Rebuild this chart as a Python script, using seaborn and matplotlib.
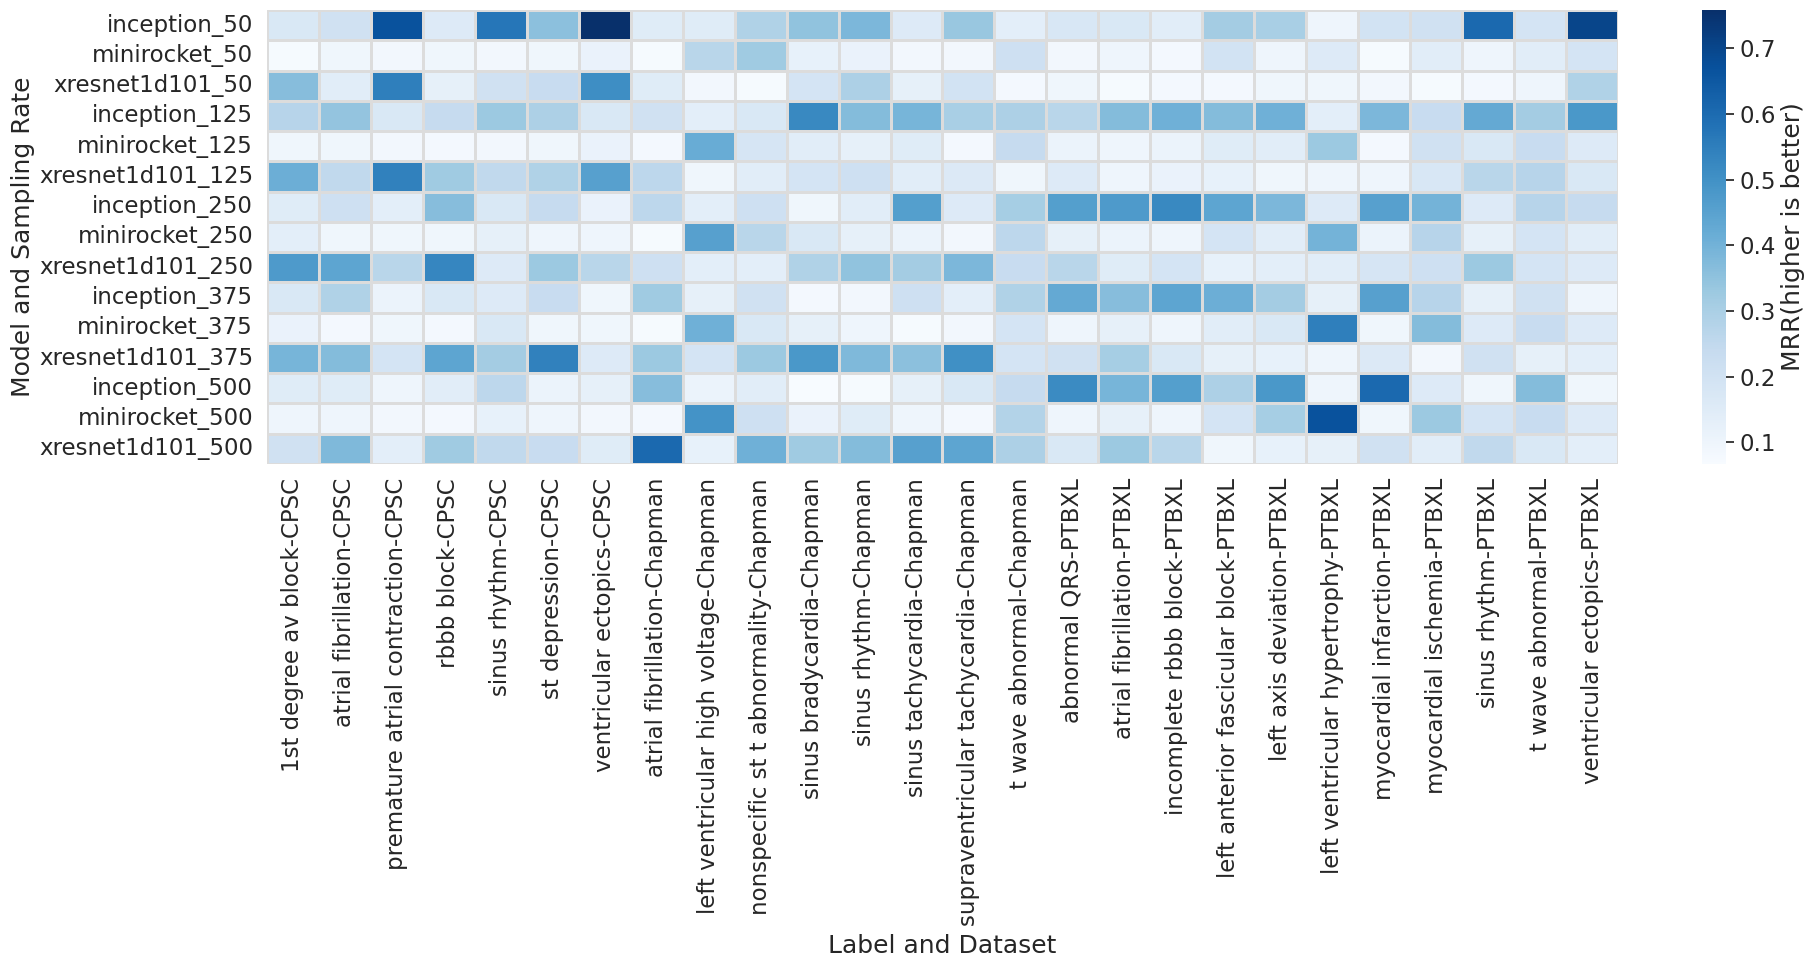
import numpy as np
import pandas as pd
import seaborn as sns
import matplotlib
matplotlib.use("Agg")
import matplotlib.pyplot as plt

models = ["inception_50", "minirocket_50", "xresnet1d101_50",
          "inception_125", "minirocket_125", "xresnet1d101_125",
          "inception_250", "minirocket_250", "xresnet1d101_250",
          "inception_375", "minirocket_375", "xresnet1d101_375",
          "inception_500", "minirocket_500", "xresnet1d101_500"]

labels = ["1st degree av block-CPSC", "atrial fibrillation-CPSC",
          "premature atrial contraction-CPSC", "rbbb block-CPSC",
          "sinus rhythm-CPSC", "st depression-CPSC", "ventricular ectopics-CPSC",
          "atrial fibrillation-Chapman", "left ventricular high voltage-Chapman",
          "nonspecific st t abnormality-Chapman", "sinus bradycardia-Chapman",
          "sinus rhythm-Chapman", "sinus tachycardia-Chapman",
          "supraventricular tachycardia-Chapman", "t wave abnormal-Chapman",
          "abnormal QRS-PTBXL", "atrial fibrillation-PTBXL",
          "incomplete rbbb block-PTBXL", "left anterior fascicular block-PTBXL",
          "left axis deviation-PTBXL", "left ventricular hypertrophy-PTBXL",
          "myocardial infarction-PTBXL", "myocardial ischemia-PTBXL",
          "sinus rhythm-PTBXL", "t wave abnormal-PTBXL", "ventricular ectopics-PTBXL"]

inception_50 = [0.171, 0.205, 0.667, 0.157, 0.571, 0.357, 0.758, 0.150, 0.150, 0.288, 0.350, 0.384, 0.157, 0.336, 0.136, 0.177, 0.171, 0.143, 0.315, 0.302, 0.102, 0.198, 0.205, 0.605, 0.191, 0.702]
minirocket_50 = [0.074, 0.095, 0.088, 0.095, 0.088, 0.095, 0.115, 0.074, 0.267, 0.322, 0.122, 0.115, 0.088, 0.088, 0.212, 0.088, 0.102, 0.081, 0.198, 0.102, 0.157, 0.074, 0.143, 0.102, 0.143, 0.191]
xresnet1d101_50 = [0.364, 0.143, 0.550, 0.129, 0.205, 0.233, 0.509, 0.150, 0.088, 0.074, 0.191, 0.295, 0.129, 0.198, 0.081, 0.095, 0.074, 0.081, 0.081, 0.095, 0.095, 0.088, 0.074, 0.081, 0.102, 0.288]
inception_125 = [0.274, 0.343, 0.171, 0.240, 0.329, 0.295, 0.171, 0.205, 0.136, 0.171, 0.522, 0.371, 0.391, 0.302, 0.295, 0.267, 0.371, 0.405, 0.371, 0.405, 0.136, 0.384, 0.233, 0.426, 0.315, 0.481]
minirocket_125 = [0.095, 0.095, 0.088, 0.081, 0.088, 0.095, 0.115, 0.081, 0.419, 0.184, 0.143, 0.129, 0.150, 0.081, 0.240, 0.108, 0.102, 0.108, 0.150, 0.143, 0.329, 0.081, 0.205, 0.171, 0.233, 0.157]
xresnet1d101_125 = [0.412, 0.253, 0.543, 0.322, 0.253, 0.288, 0.453, 0.260, 0.095, 0.143, 0.191, 0.212, 0.143, 0.164, 0.095, 0.157, 0.102, 0.115, 0.122, 0.095, 0.102, 0.102, 0.177, 0.267, 0.274, 0.171]
inception_250 = [0.150, 0.212, 0.136, 0.364, 0.171, 0.240, 0.115, 0.260, 0.136, 0.212, 0.095, 0.143, 0.460, 0.157, 0.309, 0.460, 0.474, 0.522, 0.440, 0.384, 0.157, 0.453, 0.398, 0.157, 0.274, 0.240]
minirocket_250 = [0.136, 0.095, 0.095, 0.095, 0.129, 0.102, 0.102, 0.074, 0.453, 0.267, 0.171, 0.129, 0.108, 0.088, 0.260, 0.129, 0.108, 0.102, 0.191, 0.143, 0.398, 0.108, 0.274, 0.129, 0.191, 0.143]
xresnet1d101_250 = [0.474, 0.440, 0.267, 0.529, 0.157, 0.329, 0.267, 0.212, 0.136, 0.136, 0.288, 0.350, 0.315, 0.384, 0.233, 0.267, 0.150, 0.191, 0.122, 0.136, 0.143, 0.184, 0.212, 0.329, 0.191, 0.157]
inception_375 = [0.171, 0.288, 0.108, 0.171, 0.157, 0.233, 0.095, 0.322, 0.129, 0.205, 0.081, 0.088, 0.212, 0.136, 0.288, 0.426, 0.364, 0.440, 0.412, 0.315, 0.129, 0.453, 0.274, 0.129, 0.205, 0.102]
minirocket_375 = [0.115, 0.081, 0.095, 0.081, 0.171, 0.095, 0.095, 0.074, 0.405, 0.171, 0.129, 0.102, 0.074, 0.088, 0.191, 0.102, 0.129, 0.102, 0.143, 0.171, 0.550, 0.095, 0.371, 0.157, 0.233, 0.157]
xresnet1d101_375 = [0.391, 0.371, 0.191, 0.440, 0.315, 0.543, 0.157, 0.329, 0.191, 0.329, 0.481, 0.378, 0.357, 0.502, 0.191, 0.205, 0.309, 0.171, 0.129, 0.122, 0.102, 0.164, 0.088, 0.205, 0.129, 0.136]
inception_500 = [0.150, 0.150, 0.102, 0.143, 0.260, 0.108, 0.129, 0.364, 0.108, 0.143, 0.067, 0.074, 0.129, 0.171, 0.240, 0.516, 0.391, 0.460, 0.295, 0.481, 0.102, 0.605, 0.157, 0.095, 0.371, 0.095]
minirocket_500 = [0.102, 0.102, 0.088, 0.081, 0.122, 0.102, 0.088, 0.081, 0.495, 0.212, 0.115, 0.150, 0.102, 0.081, 0.281, 0.102, 0.129, 0.102, 0.191, 0.309, 0.667, 0.095, 0.329, 0.191, 0.233, 0.157]
xresnet1d101_500 = [0.205, 0.378, 0.136, 0.322, 0.253, 0.233, 0.150, 0.605, 0.122, 0.405, 0.322, 0.371, 0.453, 0.440, 0.295, 0.171, 0.329, 0.267, 0.095, 0.122, 0.129, 0.205, 0.143, 0.253, 0.171, 0.136]

rows = [inception_50, minirocket_50, xresnet1d101_50,
        inception_125, minirocket_125, xresnet1d101_125,
        inception_250, minirocket_250, xresnet1d101_250,
        inception_375, minirocket_375, xresnet1d101_375,
        inception_500, minirocket_500, xresnet1d101_500]

df = pd.DataFrame(rows, index=models, columns=labels)

sns.set_theme(style="white", font_scale=1.5)
plt.rcParams['font.family'] = ['DejaVu Sans']

fig = plt.figure(figsize=(18.15, 9.66), dpi=100)
W, H = 1815, 966
ax = fig.add_axes([267 / W, 1 - 464 / H, 1351 / W, 454 / H])
cax = fig.add_axes([1702 / W, 1 - 464 / H, 24 / W, 454 / H])

sns.heatmap(df, ax=ax, cbar_ax=cax, cmap="Blues",
            linewidths=0.8, linecolor="#dcdcdc",
            cbar_kws={"label": "MRR(higher is better)"})

tfs, lfs = 16.5, 18
ax.tick_params(axis="both", length=0, pad=10, labelsize=tfs, colors="#262626")
ax.set_xticklabels(labels, rotation=90)
ax.set_yticklabels(models, rotation=0)
ax.set_xlabel("Label and Dataset", fontsize=lfs, color="#262626", labelpad=6)
ax.set_ylabel("Model and Sampling Rate", fontsize=lfs, color="#262626", labelpad=3)

cax.set_yticks([0.1, 0.2, 0.3, 0.4, 0.5, 0.6, 0.7])
cax.tick_params(axis="y", right=True, length=6, width=1.25, labelsize=tfs,
                colors="#262626")
cax.yaxis.label.set_size(lfs)

fig.savefig("out.png", dpi=100)
